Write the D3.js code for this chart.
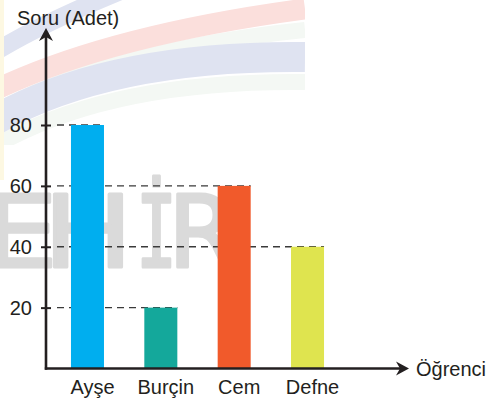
<!DOCTYPE html>
<html>
<head>
<meta charset="utf-8">
<script src="https://cdn.jsdelivr.net/npm/d3@7"></script>
<style>
  html, body { margin: 0; padding: 0; background: #fff; }
  svg { display: block; font-family: "Liberation Sans", Arial, sans-serif; }
</style>
</head>
<body>
<svg id="chart"></svg>
<script>
// chart data
const students = ["Ayşe", "Burçin", "Cem", "Defne"];
const questions = [80, 20, 60, 40];
const barColors = ["#00aeef", "#14a89b", "#f15a2b", "#dfe44f"];
const yTicks = [20, 40, 60, 80];
const yTitle = "Soru (Adet)";
const xTitle = "Öğrenci";

const W = 492, H = 401;
const axisColor = "#231f20";

const svg = d3.select("#chart").attr("width", W).attr("height", H);

// faint background watermark (arcs + letters)
const defs = svg.append("defs");
defs.append("clipPath").attr("id", "arcClip")
  .append("rect").attr("x", 4).attr("y", 0).attr("width", 301).attr("height", 145);

svg.append("rect").attr("x", 0).attr("y", 0).attr("width", 4).attr("height", 180)
  .attr("fill", "#fdf8e2");

const arcs = svg.append("g").attr("clip-path", "url(#arcClip)").attr("fill", "none");
arcs.append("path").attr("d", "M-5,52 Q60,12 200,-40")
  .attr("stroke", "#dfe3f1").attr("stroke-width", 18);
arcs.append("path").attr("d", "M-5,112 Q110,50 305,30")
  .attr("stroke", "#f4f8f4").attr("stroke-width", 16);
arcs.append("path").attr("d", "M-5,90 Q110,35 305,9")
  .attr("stroke", "#fbdfdc").attr("stroke-width", 21);
arcs.append("path").attr("d", "M-5,146 Q110,80 305,82")
  .attr("stroke", "#f4f8f4").attr("stroke-width", 16);
arcs.append("path").attr("d", "M-5,120 Q110,55 305,57")
  .attr("stroke", "#dfe3f1").attr("stroke-width", 30);

const mark = svg.append("g")
  .attr("fill", "#dadada")
  .attr("stroke", "#dadada")
  .attr("stroke-width", 3)
  .attr("stroke-linejoin", "round")
  .attr("font-size", 99)
  .attr("font-family", "DejaVu Sans, sans-serif");
mark.append("text").attr("x", -17).attr("y", 267)
  .attr("textLength", 75).attr("lengthAdjust", "spacingAndGlyphs")
  .text("E");
mark.append("text").attr("x", 43).attr("y", 267)
  .attr("textLength", 90).attr("lengthAdjust", "spacingAndGlyphs")
  .text("H");
mark.append("text").attr("x", 136).attr("y", 267)
  .attr("font-family", "DejaVu Sans Mono, monospace")
  .attr("textLength", 41).attr("lengthAdjust", "spacingAndGlyphs")
  .text("İ");
mark.append("text").attr("x", 168).attr("y", 267).text("R");

// scales
const x = d3.scaleBand()
  .domain(students)
  .range([50.8, 344.2])
  .paddingInner(0.55)
  .paddingOuter(0.275);

const y = d3.scaleLinear().domain([0, 80]).range([368.5, 125]);
const x0 = 46;

// dashed guide lines from axis to each bar's right edge
const lookup = new Map(students.map((s, i) => [questions[i], s]));
svg.append("g").selectAll("line")
  .data(yTicks)
  .join("line")
  .attr("x1", 57)
  .attr("x2", d => x(lookup.get(d)) + x.bandwidth())
  .attr("y1", d => y(d))
  .attr("y2", d => y(d))
  .attr("stroke", "#3a3a3a")
  .attr("stroke-width", 1.3)
  .attr("stroke-dasharray", "7,5");

// bars
svg.append("g").selectAll("rect")
  .data(students)
  .join("rect")
  .attr("x", d => x(d))
  .attr("width", x.bandwidth())
  .attr("y", (d, i) => y(questions[i]))
  .attr("height", (d, i) => y(0) - y(questions[i]))
  .attr("fill", (d, i) => barColors[i]);

// axes
const yAxis = d3.axisLeft(y).tickValues(yTicks).tickSize(5).tickPadding(9);
const yG = svg.append("g").attr("transform", `translate(${x0},0)`).call(yAxis);
yG.select(".domain").remove();
yG.selectAll(".tick line")
  .attr("x1", -5).attr("x2", 5)
  .attr("stroke", axisColor).attr("stroke-width", 2);
yG.selectAll(".tick text")
  .attr("font-size", 20).attr("fill", "#231f20")
  .attr("font-family", "Liberation Sans, Arial, sans-serif");

const xAxis = d3.axisBottom(x).tickSize(0).tickPadding(11);
const xG = svg.append("g").attr("transform", `translate(0,${y(0)})`).call(xAxis);
xG.select(".domain").remove();
xG.selectAll(".tick text")
  .attr("dx", 5)
  .attr("font-size", 20).attr("fill", "#231f20")
  .attr("font-family", "Liberation Sans, Arial, sans-serif");

// axis lines with arrowheads
svg.append("line")
  .attr("x1", x0).attr("y1", y(0) + 1.2).attr("x2", x0).attr("y2", 33)
  .attr("stroke", axisColor).attr("stroke-width", 2.6);
svg.append("line")
  .attr("x1", x0 - 1.2).attr("y1", y(0)).attr("x2", 403).attr("y2", y(0))
  .attr("stroke", axisColor).attr("stroke-width", 2.6);

svg.append("path")
  .attr("d", `M${x0},28 L${x0 + 7},41 L${x0},37 L${x0 - 7},41 Z`)
  .attr("fill", axisColor);
svg.append("path")
  .attr("d", `M409,${y(0)} L396,${y(0) - 7} L400,${y(0)} L396,${y(0) + 7} Z`)
  .attr("fill", axisColor);

// axis titles
svg.append("text")
  .attr("x", 17).attr("y", 25)
  .attr("font-size", 20).attr("fill", "#231f20")
  .text(yTitle);
svg.append("text")
  .attr("x", 416).attr("y", y(0) + 7)
  .attr("font-size", 20).attr("fill", "#231f20")
  .text(xTitle);
</script>
</body>
</html>
